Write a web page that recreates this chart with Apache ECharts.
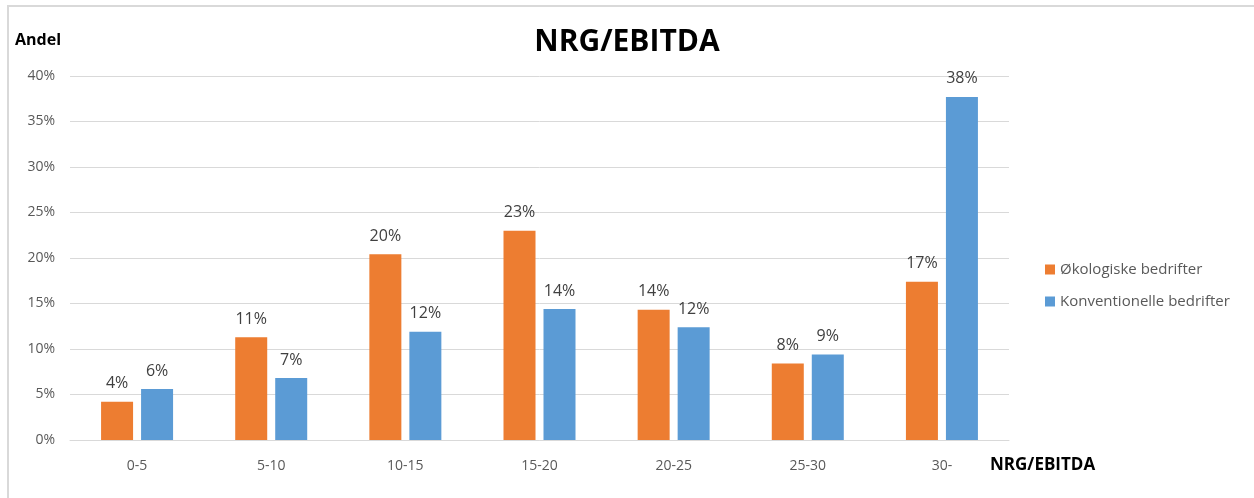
<!DOCTYPE html>
<html><head><meta charset="utf-8">
<script src="https://cdn.jsdelivr.net/npm/echarts@6/dist/echarts.min.js"></script>
<style>
html,body{margin:0;padding:0;background:#fff;overflow:hidden}
#frame{position:absolute;left:7px;top:5px;width:1250px;height:600px;border-left:2px solid #d9d9d9;border-top:2px solid #d9d9d9;border-right:2px solid #d9d9d9;box-sizing:border-box}
#c{position:absolute;left:0;top:0;width:1254px;height:498px}
</style></head>
<body><div id="frame"></div><div id="c"></div>
<script>
const categories = ['0-5','5-10','10-15','15-20','20-25','25-30','30-'];
const okologiske = [4.2, 11.3, 20.4, 23.0, 14.3, 8.4, 17.4];
const konventionelle = [5.6, 6.8, 11.9, 14.4, 12.4, 9.4, 37.7];
const yTicks = [0,5,10,15,20,25,30,35,40];
const seriesNames = ['Økologiske bedrifter','Konventionelle bedrifter'];

const FONT = '"Open Sans", sans-serif';
const chart = echarts.init(document.getElementById('c'), null, {renderer:'canvas'});
const lbl = {show:true, position:'top', distance:10, color:'#404040', fontSize:16, fontFamily:FONT,
  formatter: p => Math.round(p.value) + '%'};
chart.setOption({
  animation:false,
  backgroundColor:'transparent',
  title:{text:'NRG/EBITDA', left:'center', top:22, textStyle:{fontFamily:FONT, fontSize:30, fontWeight:'bold', color:'#000'}},
  grid:{left:70, right:245, top:76, bottom:58},
  legend:{orient:'vertical', left:1040, top:257, itemGap:17, itemWidth:10, itemHeight:10, icon:'rect',
    data:seriesNames, textStyle:{fontFamily:FONT, fontSize:15, color:'#595959'}},
  xAxis:{type:'category', data:categories,
    axisLine:{lineStyle:{color:'#d9d9d9'}}, axisTick:{show:false},
    axisLabel:{color:'#595959', fontSize:14, fontFamily:FONT, margin:19}},
  yAxis:{type:'value', min:0, max:40, interval:5,
    axisLabel:{color:'#595959', fontSize:14, fontFamily:FONT, margin:15, formatter: v => yTicks.includes(v) ? v + '%' : ''},
    splitLine:{lineStyle:{color:'#d9d9d9'}}, axisLine:{show:false}, axisTick:{show:false}},
  graphic:[
    {type:'text', left:15, top:32, style:{text:'Andel', font:'bold 16px '+FONT, fill:'#000'}},
    {type:'text', left:990, top:457, style:{text:'NRG/EBITDA', font:'bold 17px '+FONT, fill:'#000'}}
  ],
  series:[
    {name:seriesNames[0], type:'bar', data:okologiske, barWidth:32, barGap:'25%', itemStyle:{color:'#ed7d31'}, label:lbl},
    {name:seriesNames[1], type:'bar', data:konventionelle, barWidth:32, itemStyle:{color:'#5b9bd5'}, label:lbl}
  ]
});
</script></body></html>
